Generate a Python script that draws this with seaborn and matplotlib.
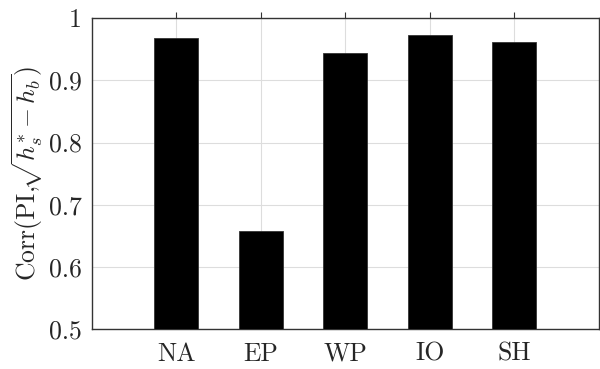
import matplotlib
matplotlib.use("Agg")
import matplotlib.pyplot as plt
import seaborn as sns
import pandas as pd

regions = ["NA", "EP", "WP", "IO", "SH"]
corr_values = [0.968, 0.657, 0.944, 0.973, 0.962]
y_ticks = [0.5, 0.6, 0.7, 0.8, 0.9, 1.0]
y_tick_labels = ["0.5", "0.6", "0.7", "0.8", "0.9", "1"]

sns.set_theme(style="white")
plt.rcParams["font.family"] = ["serif"]
plt.rcParams["font.serif"] = ["cmr10", "DejaVu Serif"]
plt.rcParams["mathtext.fontset"] = "cm"
plt.rcParams["axes.formatter.use_mathtext"] = True

df = pd.DataFrame({"region": regions, "corr": corr_values})

fig = plt.figure(figsize=(6.0, 3.69), dpi=100)
ax = fig.add_axes([0.153, 0.108, 0.845, 0.843])

sns.barplot(data=df, x="region", y="corr", color="black", width=0.52,
            edgecolor="#333333", linewidth=0.6, saturation=1, ax=ax, zorder=3)

ax.set_xlim(-1, 5)
ax.set_ylim(0.5, 1.0)
ax.set_yticks(y_ticks)
ax.set_yticklabels(y_tick_labels)
ax.set_xlabel("")
ax.set_ylabel(r"$\mathrm{Corr}(\mathrm{PI}{,}\!\sqrt{h_s^{*}-h_b})$", fontsize=18.5, labelpad=3)

ax.grid(True, color="#dddddd", linewidth=0.8, zorder=0)
ax.set_axisbelow(True)
for side in ["left", "right", "top", "bottom"]:
    ax.spines[side].set_visible(True)
    ax.spines[side].set_color("#333333")
    ax.spines[side].set_linewidth(1.0)

ax.tick_params(axis="both", which="major", direction="out", length=4.3, width=0.8,
               color="#333333", labelsize=18.5, top=True, right=True,
               labeltop=False, labelright=False)
ax.tick_params(axis="x", pad=5)
ax.tick_params(axis="y", pad=3)

fig.savefig("out.png", dpi=100)
